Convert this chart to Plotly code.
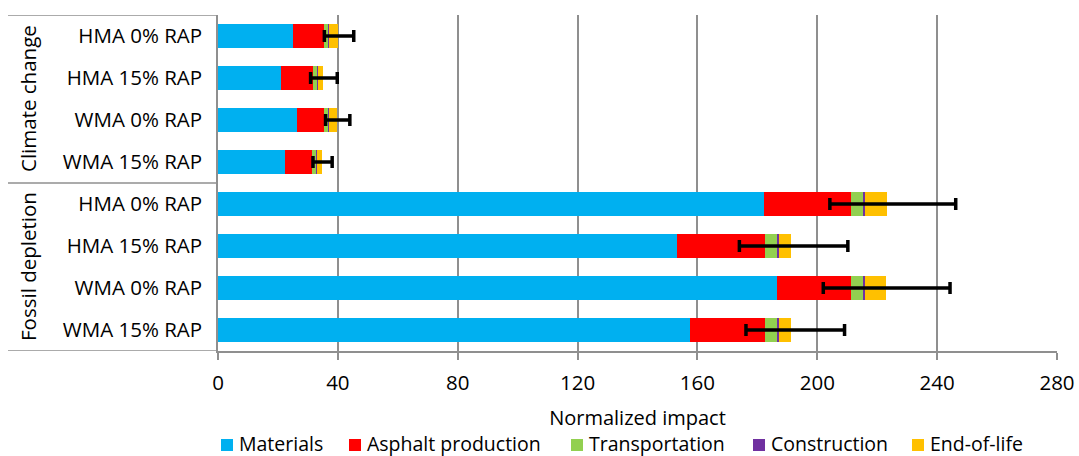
import plotly.graph_objects as go

# Life-cycle stages and their colours
stages = ["Materials", "Asphalt production", "Transportation", "Construction", "End-of-life"]
stage_colors = ["#00B0F0", "#FF0000", "#92D050", "#7030A0", "#FFC000"]

# Impact categories (outer level) and mix designs (inner level), top to bottom
groups = ["Climate change", "Fossil depletion"]
mixes = ["HMA 0% RAP", "HMA 15% RAP", "WMA 0% RAP", "WMA 15% RAP"]
row_labels = mixes + mixes

# Normalized impact per stage, one value per row
materials = [24.9, 21.0, 26.4, 22.5, 182.2, 153.2, 186.5, 157.6]
asphalt_production = [10.6, 10.8, 9.1, 8.9, 29.0, 29.3, 24.7, 25.1]
transportation = [1.4, 1.4, 1.3, 1.5, 4.0, 3.9, 4.0, 3.7]
construction = [0.2, 0.2, 0.2, 0.2, 0.7, 0.7, 0.7, 0.7]
end_of_life = [2.9, 1.6, 2.8, 1.6, 7.3, 4.1, 7.1, 4.1]

# Uncertainty range of the total impact
err_low = [35.5, 30.9, 35.9, 31.7, 204.2, 174.0, 202.0, 176.2]
err_high = [45.3, 39.8, 44.0, 38.1, 246.2, 210.2, 244.3, 209.1]

# Axis ticks
x_ticks = [0, 40, 80, 120, 160, 200, 240, 280]

series = [materials, asphalt_production, transportation, construction, end_of_life]
rows = list(range(len(row_labels)))
totals = [sum(s[i] for s in series) for i in rows]

FONT = "Open Sans"
GRID = "#8f8f8f"
W, H = 1079, 456
L, R, T, B = 218, 22, 15, 105
plot_w = W - L - R
plot_h = H - T - B


def px_x(px):
    return (px - L) / plot_w


def px_y(py):
    return (H - B - py) / plot_h


fig = go.Figure()
for name, color, vals in zip(stages, stage_colors, series):
    fig.add_trace(go.Bar(
        y=rows, x=vals, name=name, orientation="h",
        marker=dict(color=color, line=dict(width=0)),
        showlegend=False,
    ))

fig.add_trace(go.Scatter(
    y=rows, x=totals, mode="markers",
    marker=dict(size=1, opacity=0),
    showlegend=False, hoverinfo="skip",
    error_x=dict(
        type="data", symmetric=False,
        array=[h - t for h, t in zip(err_high, totals)],
        arrayminus=[t - l for l, t in zip(err_low, totals)],
        color="black", thickness=3.5, width=6,
    ),
))

# Outer category labels and dividers of the two-level axis
for k, g in enumerate(groups):
    fig.add_annotation(
        text=g, textangle=-90, showarrow=False,
        xref="paper", x=px_x(28), xanchor="center",
        yref="y", y=k * 4 + 1.5, yanchor="middle",
        font=dict(family=FONT, size=20.5, color="#000000"),
    )
for yv in [-0.5, 3.5, 7.5]:
    fig.add_shape(
        type="line", xref="paper", x0=px_x(8), x1=0,
        yref="y", y0=yv, y1=yv,
        line=dict(color=GRID, width=1.5),
    )

# Legend row under the axis title
legend_left = [221, 349, 571, 753, 912]
legend_cy = 443
sq = 12
for name, color, x0 in zip(stages, stage_colors, legend_left):
    fig.add_shape(
        type="rect", xref="paper", yref="paper",
        x0=px_x(x0), x1=px_x(x0 + sq),
        y0=px_y(legend_cy + 2 + sq / 2), y1=px_y(legend_cy + 2 - sq / 2),
        fillcolor=color, line=dict(width=0),
    )
    fig.add_annotation(
        text=name, showarrow=False,
        xref="paper", x=px_x(x0 + sq + 5), xanchor="left",
        yref="paper", y=px_y(legend_cy), yanchor="middle",
        borderpad=0,
        font=dict(family=FONT, size=19.5, color="#000000"),
    )

fig.update_layout(
    width=W, height=H,
    margin=dict(l=L, r=R, t=T, b=B, autoexpand=False),
    barmode="stack", bargap=0.43,
    plot_bgcolor="white", paper_bgcolor="white",
    font=dict(family=FONT, size=20.5, color="#000000"),
    showlegend=False,
)

fig.update_xaxes(
    range=[0, 280], tickvals=x_ticks, ticktext=[str(v) for v in x_ticks],
    showgrid=True, gridcolor=GRID, gridwidth=1.5,
    showline=True, linecolor=GRID, linewidth=1.5,
    ticks="outside", ticklen=7, tickcolor=GRID, tickwidth=1.5,
    zeroline=False, ticklabelstandoff=6,
    title=dict(text="Normalized impact", standoff=16,
               font=dict(family=FONT, size=20, color="#000000")),
)

fig.update_yaxes(
    range=[7.5, -0.5], tickvals=rows, ticktext=row_labels,
    showgrid=False, zeroline=False,
    showline=True, linecolor=GRID, linewidth=1.5,
    ticks="", ticklabelstandoff=10,
)

fig.write_html("out.html")
